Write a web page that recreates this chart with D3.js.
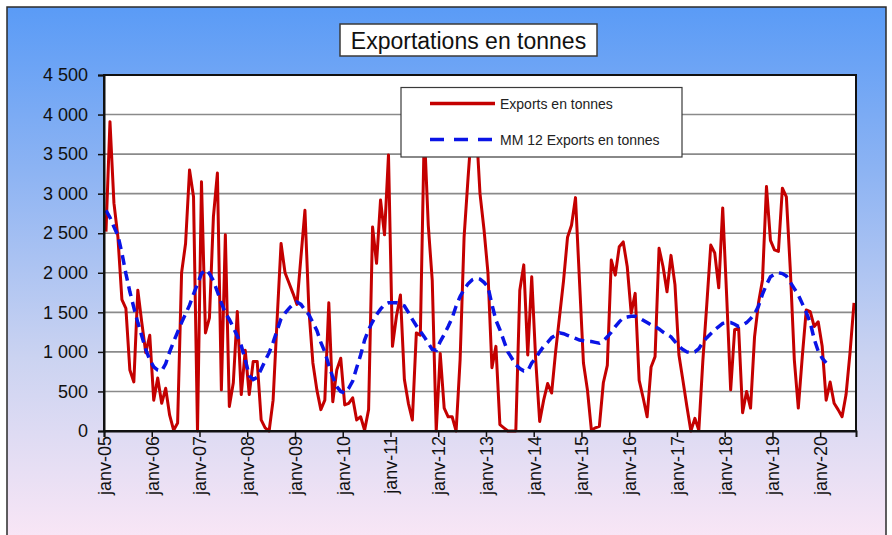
<!DOCTYPE html>
<html>
<head>
<meta charset="utf-8">
<script src="https://cdn.jsdelivr.net/npm/d3@7/dist/d3.min.js"></script>
<style>
  html, body { margin: 0; padding: 0; background: #ffffff; }
  svg { display: block; }
  text { font-family: "Liberation Sans", Arial, sans-serif; }
</style>
</head>
<body>
<svg id="chart" width="892" height="535"></svg>
<script>
// ---------------- DATA ----------------
const titleText = "Exportations en tonnes";
const seriesNames = ["Exports en tonnes", "MM 12 Exports en tonnes"];
// monthly categories: janv-05 ... sept-20 (189 months)
const monthCount = 189;
const tickLabels = ["janv-05","janv-06","janv-07","janv-08","janv-09","janv-10","janv-11","janv-12",
                    "janv-13","janv-14","janv-15","janv-16","janv-17","janv-18","janv-19","janv-20"];
const yTicks = [0, 500, 1000, 1500, 2000, 2500, 3000, 3500, 4000, 4500];

// Exports en tonnes (monthly)
const exportsT = [
  2520, 3910, 2880, 2450, 1660, 1550,  770,  620, 1780, 1370,  990, 1210, // 2005
   390,  670,  350,  540,  200,   10,  100, 2000, 2370, 3300, 2960,    0, // 2006
  3150, 1240, 1430, 2710, 3260,  520, 2480,  310,  610, 1510,  460, 1020, // 2007
   460,  880,  880,  140,   40,    0,  390, 1400, 2370, 2000, 1870, 1740, // 2008
  1600, 2200, 2790, 1530,  860,  520,  270,  390, 1620,  370,  770,  920, // 2009
   330,  350,  420,  140,  180,   10,  270, 2580, 2120, 2920, 2480, 3490, // 2010
  1070, 1450, 1720,  650,  350,  140, 1240, 1210, 3800, 2600, 1900,    0, // 2011
   980,  290,  180,  180,    0,  900, 2450, 3200, 3900, 3900, 3000, 2550, // 2012
  2000,  800, 1070,   80,   40,    0,    0,    0, 1780, 2100,  960, 1950, // 2013
   900,  120,  390,  600,  480, 1000, 1450, 1900, 2450, 2600, 2950, 1900, // 2014
   860,  520,   10,   40,   60,  610,  830, 2160, 1970, 2330, 2390, 2080, // 2015
  1490, 1740,  640,  420,  180,  810,  940, 2310, 2080, 1760, 2220, 1850, // 2016
   960,  640,  310,    0,  160,   10,  880, 1600, 2350, 2250, 1810, 2820, // 2017
  1700,  520, 1280, 1300,  230,  500,  290, 1190, 1620, 1910, 3090, 2410, // 2018
  2290, 2270, 3070, 2960, 2030,  900,  290,  940, 1530, 1510, 1320, 1380, // 2019
  1070,  390,  620,  350,  270,  180,  460,  990, 1620                    // 2020
];

// MM 12 Exports en tonnes (monthly)
const mm12 = [
  2790, 2700, 2580, 2470, 2250, 1990, 1760, 1560, 1370, 1200, 1030,  900, // 2005
   810,  770,  760,  850, 1000, 1130, 1250, 1370, 1480, 1590, 1730, 1860, // 2006
  1990, 2040, 1990, 1900, 1760, 1620, 1490, 1410, 1310, 1200, 1080,  900, // 2007
   700,  650,  680,  780,  890,  990, 1120, 1270, 1420, 1490, 1550, 1600, // 2008
  1630, 1600, 1530, 1470, 1370, 1270, 1120, 1000,  830,  680,  560,  500, // 2009
   480,  540,  630,  800,  960, 1150, 1280, 1380, 1470, 1540, 1600, 1620, // 2010
  1620, 1620, 1600, 1580, 1500, 1410, 1330, 1260, 1190, 1110, 1030, 1020, // 2011
  1130, 1220, 1320, 1430, 1580, 1700, 1790, 1860, 1910, 1930, 1920, 1880, // 2012
  1820, 1600, 1400, 1280, 1140, 1000,  920,  840,  790,  760,  760,  860, // 2013
   920, 1000, 1070, 1120, 1180, 1210, 1240, 1230, 1210, 1190, 1170, 1150, // 2014
  1140, 1130, 1130, 1120, 1110, 1140, 1190, 1250, 1320, 1380, 1430, 1440, // 2015
  1450, 1450, 1430, 1400, 1370, 1340, 1320, 1290, 1250, 1220, 1190, 1130, // 2016
  1070, 1030, 1000,  990, 1000, 1040, 1120, 1180, 1230, 1280, 1320, 1360, // 2017
  1370, 1370, 1350, 1320, 1340, 1370, 1420, 1480, 1580, 1730, 1850, 1950, // 2018
  1980, 2000, 1990, 1960, 1880, 1800, 1720, 1610, 1500, 1370, 1160, 1010, // 2019
   920,  860                                                              // 2020
];

// ---------------- LAYOUT ----------------
const W = 892, H = 535;
const plot = { left: 104, right: 856, top: 75, bottom: 431 };

const svg = d3.select("#chart");
const defs = svg.append("defs");
const grad = defs.append("linearGradient").attr("id", "bg").attr("x1", 0).attr("y1", 0).attr("x2", 0).attr("y2", 1);
grad.append("stop").attr("offset", "0%").attr("stop-color", "#5a9bf6");
grad.append("stop").attr("offset", "30%").attr("stop-color", "#8cb3f3");
grad.append("stop").attr("offset", "65%").attr("stop-color", "#cbd3f1");
grad.append("stop").attr("offset", "100%").attr("stop-color", "#fbe7f6");

// chart area background with frame
svg.append("rect").attr("x", 7).attr("y", 7).attr("width", 879).attr("height", 540)
  .attr("fill", "url(#bg)").attr("stroke", "#2b2b2b").attr("stroke-width", 1.5);

// scales
const x = d3.scaleLinear().domain([0, monthCount]).range([plot.left, plot.right]);
const y = d3.scaleLinear().domain([0, 4500]).range([plot.bottom, plot.top]);

// plot background
svg.append("rect").attr("x", plot.left).attr("y", plot.top)
  .attr("width", plot.right - plot.left).attr("height", plot.bottom - plot.top)
  .attr("fill", "#ffffff");

// gridlines
svg.append("g").selectAll("line").data(yTicks.filter(v => v > 0 && v < 4500)).join("line")
  .attr("x1", plot.left).attr("x2", plot.right)
  .attr("y1", d => y(d)).attr("y2", d => y(d))
  .attr("stroke", "#8a8a8a").attr("stroke-width", 1.6);

// lines
const lineGen = d3.line().x((d, i) => x(i + 0.5)).y(d => y(d));
svg.append("path").datum(exportsT).attr("d", lineGen)
  .attr("fill", "none").attr("stroke", "#c40000").attr("stroke-width", 3)
  .attr("stroke-linejoin", "round");
svg.append("path").datum(mm12).attr("d", lineGen)
  .attr("fill", "none").attr("stroke", "#0a14e6").attr("stroke-width", 3.5)
  .attr("stroke-dasharray", "10,6");

// plot frame
svg.append("rect").attr("x", plot.left).attr("y", plot.top)
  .attr("width", plot.right - plot.left).attr("height", plot.bottom - plot.top)
  .attr("fill", "none").attr("stroke", "#111").attr("stroke-width", 2);

// y axis
const loc = d3.formatLocale({ decimal: ",", thousands: "\u00a0", grouping: [3], currency: ["", " €"] });
const fmt = loc.format(",d");
const yAxis = svg.append("g").attr("transform", `translate(${plot.left},0)`)
  .call(d3.axisLeft(y).tickValues(yTicks).tickFormat(fmt).tickSize(6).tickPadding(10));
yAxis.select(".domain").attr("stroke", "#111").attr("stroke-width", 2);
yAxis.selectAll(".tick line").attr("stroke", "#111").attr("stroke-width", 1.5);
yAxis.selectAll(".tick text").attr("font-size", 18).attr("fill", "#111")
  .attr("font-family", "'Liberation Sans', Arial, sans-serif");

// x axis
const xTickVals = tickLabels.map((d, i) => i * 12);
const xAxis = svg.append("g").attr("transform", `translate(0,${plot.bottom})`)
  .call(d3.axisBottom(x).tickValues(xTickVals).tickFormat((d, i) => tickLabels[i]).tickSize(6).tickPadding(4));
xAxis.select(".domain").attr("stroke", "#111").attr("stroke-width", 2);
xAxis.selectAll(".tick line").attr("stroke", "#111").attr("stroke-width", 1.5);
xAxis.selectAll(".tick text")
  .attr("font-size", 18).attr("fill", "#111")
  .attr("font-family", "'Liberation Sans', Arial, sans-serif")
  .attr("text-anchor", "end")
  .attr("dy", "0.35em")
  .attr("transform", "translate(0,5) rotate(-90)")
  .attr("x", 0).attr("y", 0);

// title box
const tb = svg.append("g");
tb.append("rect").attr("x", 340).attr("y", 24).attr("width", 257).attr("height", 32)
  .attr("fill", "#ffffff").attr("stroke", "#3a3a3a").attr("stroke-width", 1.5);
tb.append("text").attr("x", 468.5).attr("y", 48.5).attr("text-anchor", "middle")
  .attr("font-size", 23).attr("fill", "#111").text(titleText);

// legend
const lg = svg.append("g");
lg.append("rect").attr("x", 401).attr("y", 87.5).attr("width", 281).attr("height", 69.5)
  .attr("fill", "#ffffff").attr("stroke", "#3a3a3a").attr("stroke-width", 1.2);
const legendItems = [
  { name: seriesNames[0], color: "#c40000", dash: null, y: 103.5, w: 3.5 },
  { name: seriesNames[1], color: "#0a14e6", dash: "14,10", y: 139.5, w: 3.5 }
];
legendItems.forEach(it => {
  lg.append("line").attr("x1", 430).attr("x2", 495).attr("y1", it.y).attr("y2", it.y)
    .attr("stroke", it.color).attr("stroke-width", it.w)
    .attr("stroke-dasharray", it.dash);
  lg.append("text").attr("x", 500).attr("y", it.y + 5).attr("font-size", 14)
    .attr("fill", "#222").text(it.name);
});
</script>
</body>
</html>
